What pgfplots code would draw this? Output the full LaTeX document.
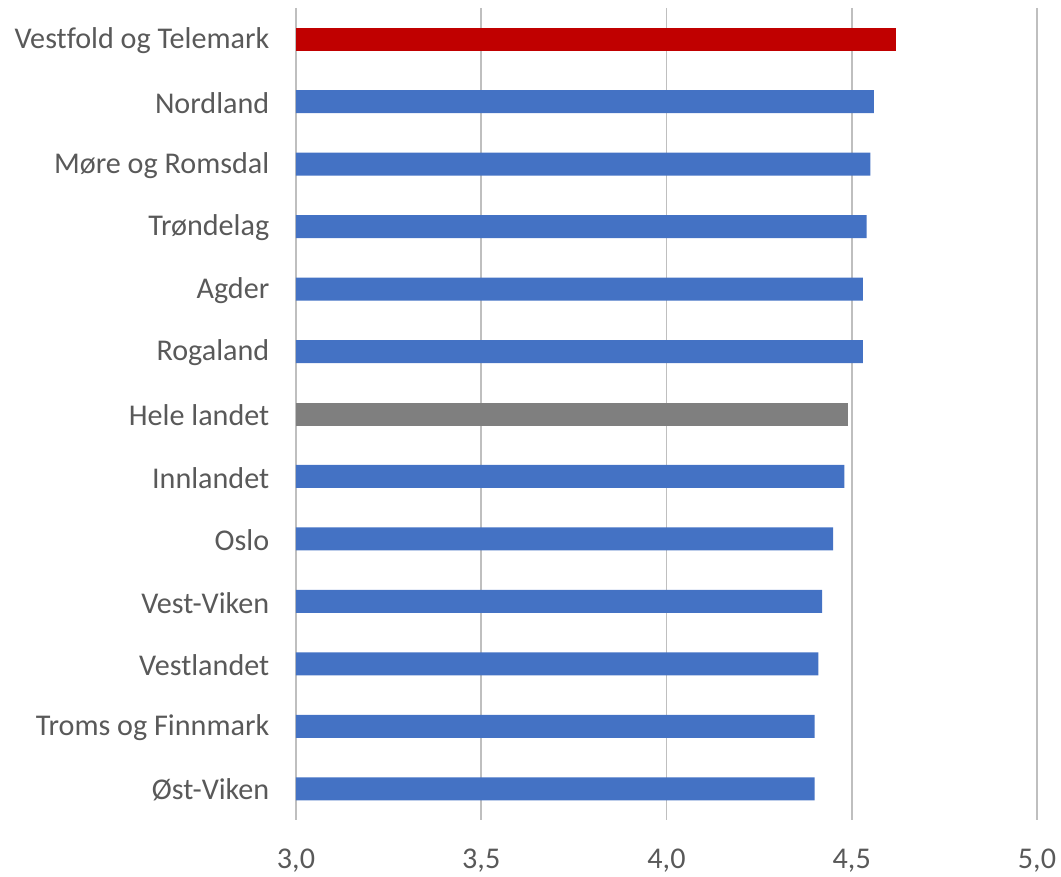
\documentclass[border=0pt]{standalone}
\usepackage{pgfplots}
\pgfplotsset{compat=1.18}
\usetikzlibrary{calc}
\usepackage{fontspec}
\setmainfont[Ligatures=NoCommon]{Carlito}
\definecolor{barblue}{HTML}{4472C4}
\definecolor{barred}{HTML}{C00000}
\definecolor{bargray}{HTML}{7F7F7F}
\definecolor{txt}{HTML}{595959}
\definecolor{grid}{HTML}{D9D9D9}
\begin{document}
\begin{tikzpicture}
\begin{axis}[
    scale only axis,
    width=555.75pt,
    height=609pt,
    xbar, bar shift=0pt,
    bar width=17.25pt,
    xmin=3, xmax=5,
    ymin=-0.5, ymax=12.5,
    y dir=reverse,
    xtick={3,3.5,4,4.5,5},
    ytick={0,...,12},
    yticklabels={Vestfold og Telemark, Nordland, Møre og Romsdal, Trøndelag, Agder, Rogaland, Hele landet, Innlandet, Oslo, Vest-Viken, Vestlandet, Troms og Finnmark, Øst-Viken},
    xticklabel style={yshift=-18pt, /pgf/number format/.cd, fixed, fixed zerofill, precision=1, use comma, assume math mode=true},
    tick label style={font=\fontsize{22.6pt}{26pt}\selectfont, text=txt},
    yticklabel style={xshift=-16.5pt, yshift=-1pt},
    major tick length=0pt,
    axis line style={draw=none},
    xmajorgrids=true,
    ymajorgrids=false,
    grid style={grid, line width=1.2pt},
    clip=true,
]
\addplot[fill=barred, draw=none] coordinates {(4.62,0)};
\addplot[fill=barblue, draw=none] coordinates {
    (4.56,1) (4.55,2) (4.54,3) (4.53,4) (4.53,5)
    (4.48,7) (4.45,8) (4.42,9) (4.41,10) (4.40,11) (4.40,12)};
\addplot[fill=bargray, draw=none] coordinates {(4.49,6)};
\end{axis}
\pgfresetboundingbox
\path ($(current axis.south west)+(-222pt,-42.75pt)$) rectangle ($(current axis.north east)+(18pt,6pt)$);
\end{tikzpicture}
\end{document}
